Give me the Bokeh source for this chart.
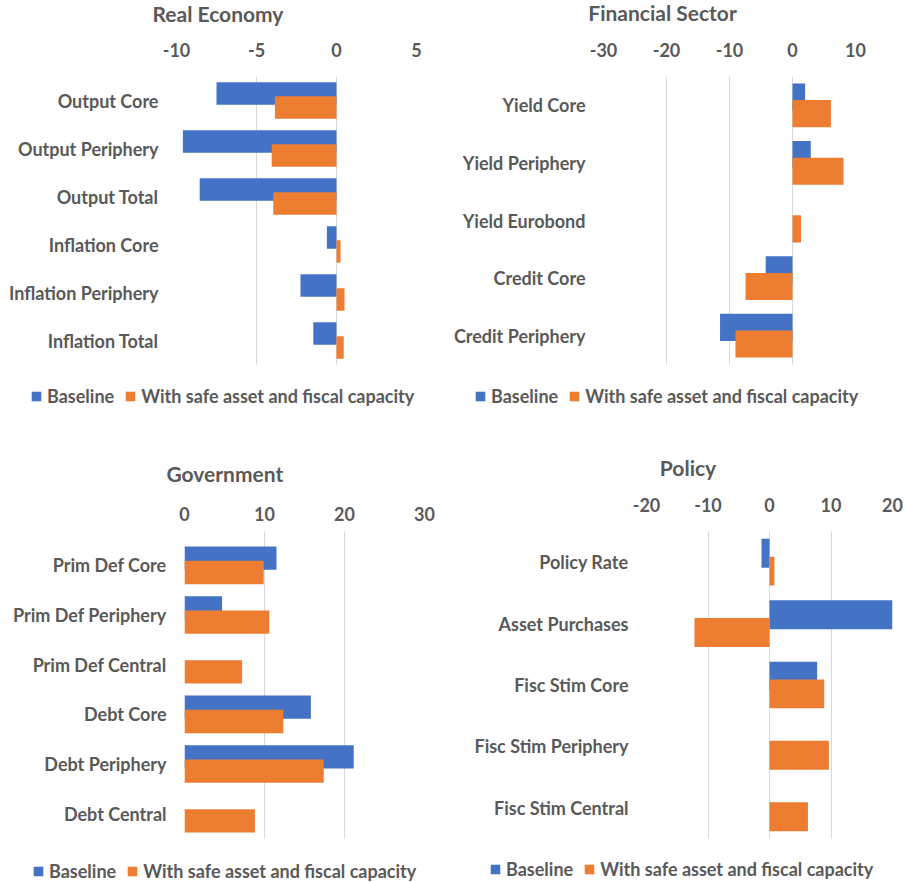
from bokeh.plotting import figure
from bokeh.models import (ColumnDataSource, Range1d, FixedTicker,
                          Legend, LegendItem, Label)
from bokeh.transform import dodge
from bokeh.layouts import column, row
from bokeh.embed import file_html
from bokeh.resources import INLINE

# ---------------- data ----------------
series_names = ["Baseline", "With safe asset and fiscal capacity"]

re_title = "Real Economy"
re_cats = ["Output Core", "Output Periphery", "Output Total",
           "Inflation Core", "Inflation Periphery", "Inflation Total"]
re_base = [-7.5, -9.6, -8.55, -0.6, -2.25, -1.45]
re_safe = [-3.85, -4.05, -3.95, 0.25, 0.5, 0.45]
re_ticks = [-10, -5, 0, 5]

fs_title = "Financial Sector"
fs_cats = ["Yield Core", "Yield Periphery", "Yield Eurobond",
           "Credit Core", "Credit Periphery"]
fs_base = [2.0, 2.9, 0.0, -4.25, -11.5]
fs_safe = [6.1, 8.1, 1.35, -7.45, -9.05]
fs_ticks = [-30, -20, -10, 0, 10]

gov_title = "Government"
gov_cats = ["Prim Def Core", "Prim Def Periphery", "Prim Def Central",
            "Debt Core", "Debt Periphery", "Debt Central"]
gov_base = [11.5, 4.7, 0.0, 15.8, 21.15, 0.0]
gov_safe = [9.9, 10.6, 7.2, 12.35, 17.4, 8.8]
gov_ticks = [0, 10, 20, 30]

pol_title = "Policy"
pol_cats = ["Policy Rate", "Asset Purchases", "Fisc Stim Core",
            "Fisc Stim Periphery", "Fisc Stim Central"]
pol_base = [-1.3, 20.15, 7.75, 0.0, 0.0]
pol_safe = [0.8, -12.2, 8.9, 9.65, 6.25]
pol_ticks = [-20, -10, 0, 10, 20]

# ---------------- style ----------------
FONT = "Lato"
GREY = "#595959"
BLUE = "#4472C4"
ORANGE = "#ED7D31"
GRID = "#D9D9D9"
TITLE_SHIFT = 9     # correction for where the label baseline lands
ROW_H = 21          # legend row height


def blank(W, H):
    f = figure(width=W, height=H, x_range=Range1d(0, 1), y_range=Range1d(0, 1),
               x_axis_location=None, y_axis_location=None,
               output_backend="svg", toolbar_location=None, tools="",
               min_border=0)
    f.outline_line_color = None
    f.xgrid.grid_line_color = None
    f.ygrid.grid_line_color = None
    f.background_fill_color = "white"
    f.border_fill_color = "white"
    return f


def title_fig(text, W, H, cx, baseline):
    f = blank(W, H)
    f.add_layout(Label(x=cx, y=H - baseline + TITLE_SHIFT,
                       x_units="screen", y_units="screen",
                       text=text, text_align="center", text_baseline="alphabetic",
                       text_font=FONT, text_font_style="bold",
                       text_font_size="21px", text_color=GREY))
    return f


def legend_fig(W, H, lx, center_y):
    f = blank(W, H)
    proxy = ColumnDataSource(dict(y=[0], left=[0], right=[0]))
    d1 = f.hbar(y="y", left="left", right="right", height=0, source=proxy,
                fill_color=BLUE, line_color=None)
    d2 = f.hbar(y="y", left="left", right="right", height=0, source=proxy,
                fill_color=ORANGE, line_color=None)
    top = center_y - ROW_H / 2
    leg = Legend(items=[LegendItem(label=series_names[0], renderers=[d1]),
                        LegendItem(label=series_names[1], renderers=[d2])],
                 location=(lx, H - top - ROW_H), orientation="horizontal",
                 padding=0, margin=0, spacing=10, label_standoff=5,
                 glyph_width=12, glyph_height=12,
                 border_line_color=None, background_fill_alpha=0,
                 label_text_font=FONT, label_text_font_style="bold",
                 label_text_font_size="18px", label_text_color=GREY)
    f.add_layout(leg, "center")
    return f


def plot_fig(cats, base, safe, ticks, W, H, bl, bt, br, bb,
             tick_standoff=20, top_extra=0.0):
    n = len(cats)
    pos = [n - 1 - i for i in range(n)]          # first category on top
    p = figure(width=W, height=H,
               y_range=Range1d(-0.5, n - 0.5 + top_extra),
               x_range=Range1d(ticks[0], ticks[-1]),
               x_axis_location="above",
               output_backend="svg", toolbar_location=None, tools="",
               min_border_left=bl, min_border_right=br,
               min_border_top=bt, min_border_bottom=bb)
    p.outline_line_color = None
    p.background_fill_color = "white"
    p.border_fill_color = "white"

    src = ColumnDataSource(dict(pos=pos, cat=cats, base=base, safe=safe))
    p.hbar(y=dodge("pos", 0.145), left=0, right="base",
           height=0.47, fill_color=BLUE, line_color=None, source=src)
    p.hbar(y=dodge("pos", -0.145), left=0, right="safe",
           height=0.47, fill_color=ORANGE, line_color=None, source=src)

    p.xaxis.ticker = FixedTicker(ticks=ticks)
    p.xaxis.major_label_overrides = {t: str(t) for t in ticks}
    p.yaxis.ticker = FixedTicker(ticks=pos)
    p.yaxis.major_label_overrides = {k: c for k, c in zip(pos, cats)}
    for ax in (p.xaxis, p.yaxis):
        ax.axis_line_color = None
        ax.major_tick_line_color = None
        ax.minor_tick_line_color = None
        ax.major_tick_out = 0
        ax.major_tick_in = 0
        ax.major_label_text_font = FONT
        ax.major_label_text_font_style = "bold"
        ax.major_label_text_font_size = "18px"
        ax.major_label_text_color = GREY
    p.xaxis.major_label_standoff = tick_standoff
    p.yaxis.major_label_standoff = 18
    p.xgrid.grid_line_color = GRID
    p.xgrid.grid_line_width = 1
    p.ygrid.grid_line_color = None
    return p


# top row (page y 0..445)
t1 = title_fig(re_title, 450, 32, 217.5, 22)
t2 = title_fig(fs_title, 455, 32, 212, 21)
p1 = plot_fig(re_cats, re_base, re_safe, re_ticks, 450, 348, 176, 44, 34, 16)
p2 = plot_fig(fs_cats, fs_base, fs_safe, fs_ticks, 455, 348, 151, 44, 50, 16)
l1 = legend_fig(450, 65, 30, 16)
l2 = legend_fig(455, 65, 24, 16)

# bottom row (page y 445..882); both frames share top 531 / bottom 838
t3 = title_fig(gov_title, 450, 42, 224.3, 37)
t4 = title_fig(pol_title, 455, 42, 237.5, 31)
p3 = plot_fig(gov_cats, gov_base, gov_safe, gov_ticks, 450, 361, 184, 44, 26, 10,
              tick_standoff=11, top_extra=9 / (298 / 6))
p4 = plot_fig(pol_cats, pol_base, pol_safe, pol_ticks, 455, 361, 196, 44, 13, 10,
              tick_standoff=20)
l3 = legend_fig(450, 34, 32, 23)
l4 = legend_fig(455, 34, 39, 21)

page = column(row(t1, t2), row(p1, p2), row(l1, l2),
              row(t3, t4), row(p3, p4), row(l3, l4))

open("out.html", "w").write(file_html(page, INLINE))
